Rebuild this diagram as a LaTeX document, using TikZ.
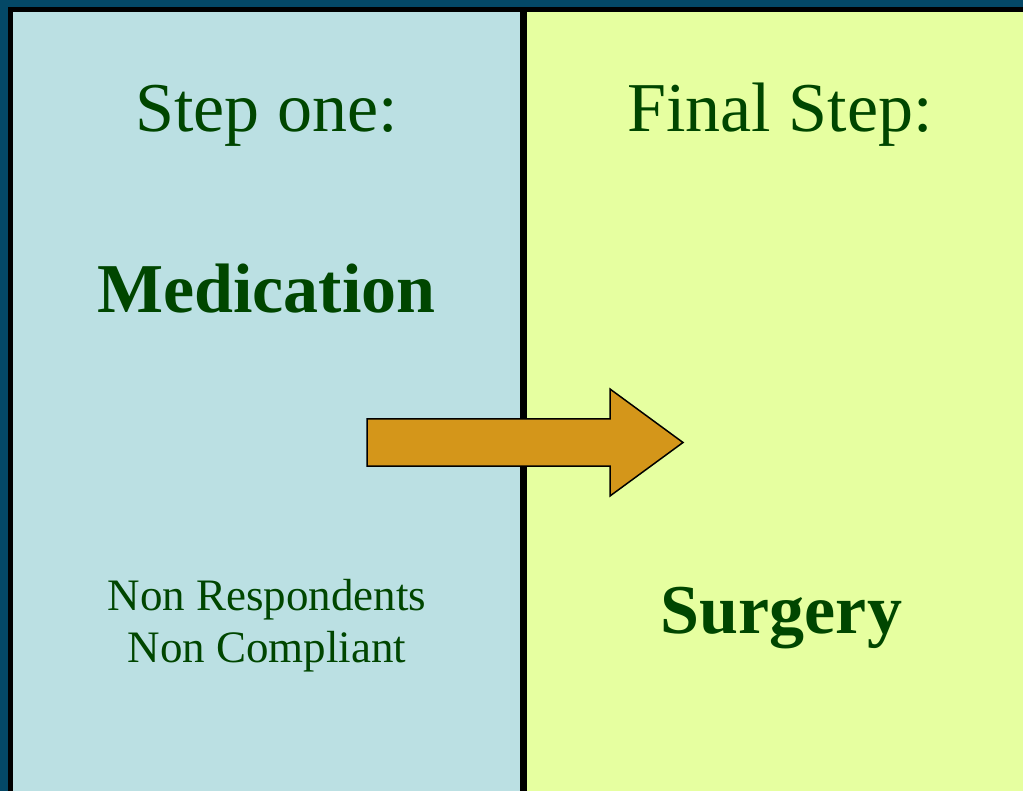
\documentclass[tikz,border=0pt]{standalone}
\usepackage{fontspec}
\setmainfont{Liberation Serif}
\definecolor{frameteal}{RGB}{4,72,102}
\definecolor{panelblue}{RGB}{187,224,227}
\definecolor{panelgreen}{RGB}{230,255,160}
\definecolor{textgreen}{RGB}{0,70,0}
\definecolor{arrowgold}{RGB}{212,150,26}
\tikzset{
  bigtext/.style={anchor=base, text=textgreen, inner sep=0pt,
    font=\fontsize{70}{84}\selectfont},
  bigbold/.style={bigtext, font=\fontsize{70}{84}\selectfont\bfseries},
  smalltext/.style={anchor=base, text=textgreen, inner sep=0pt, align=center,
    font=\fontsize{45}{52}\selectfont},
}
\begin{document}
\begin{tikzpicture}[x=1pt, y=-1pt]
    \useasboundingbox (0,0) rectangle (1023,791);
    \fill[frameteal] (0,0) rectangle (1023,791);
    \fill[black] (8,7) rectangle (1023,791);
    \fill[panelblue] (13,12) rectangle (520,791);
    \fill[panelgreen] (527,12) rectangle (1023,791);
    % arrow between the two steps
    \draw[fill=arrowgold, line width=1.5pt, line join=miter]
      (367,419) -- (610,419) -- (610,389) -- (683,442.5) -- (610,496)
      -- (610,466) -- (367,466) -- cycle;
    \node[bigtext] (stepone) at (266.5,132) {Step one:};
    \node[bigtext] (finalstep) at (780,132) {Final Step:};
    \node[bigbold] (medication) at (266.5,313) {Medication};
    \node[bigbold] (surgery) at (781.5,633) {Surgery};
    % base of a two-line node sits on its last line
    \node[smalltext] (nonresp) at (267,662) {Non Respondents\\Non Compliant};
\end{tikzpicture}
\end{document}
